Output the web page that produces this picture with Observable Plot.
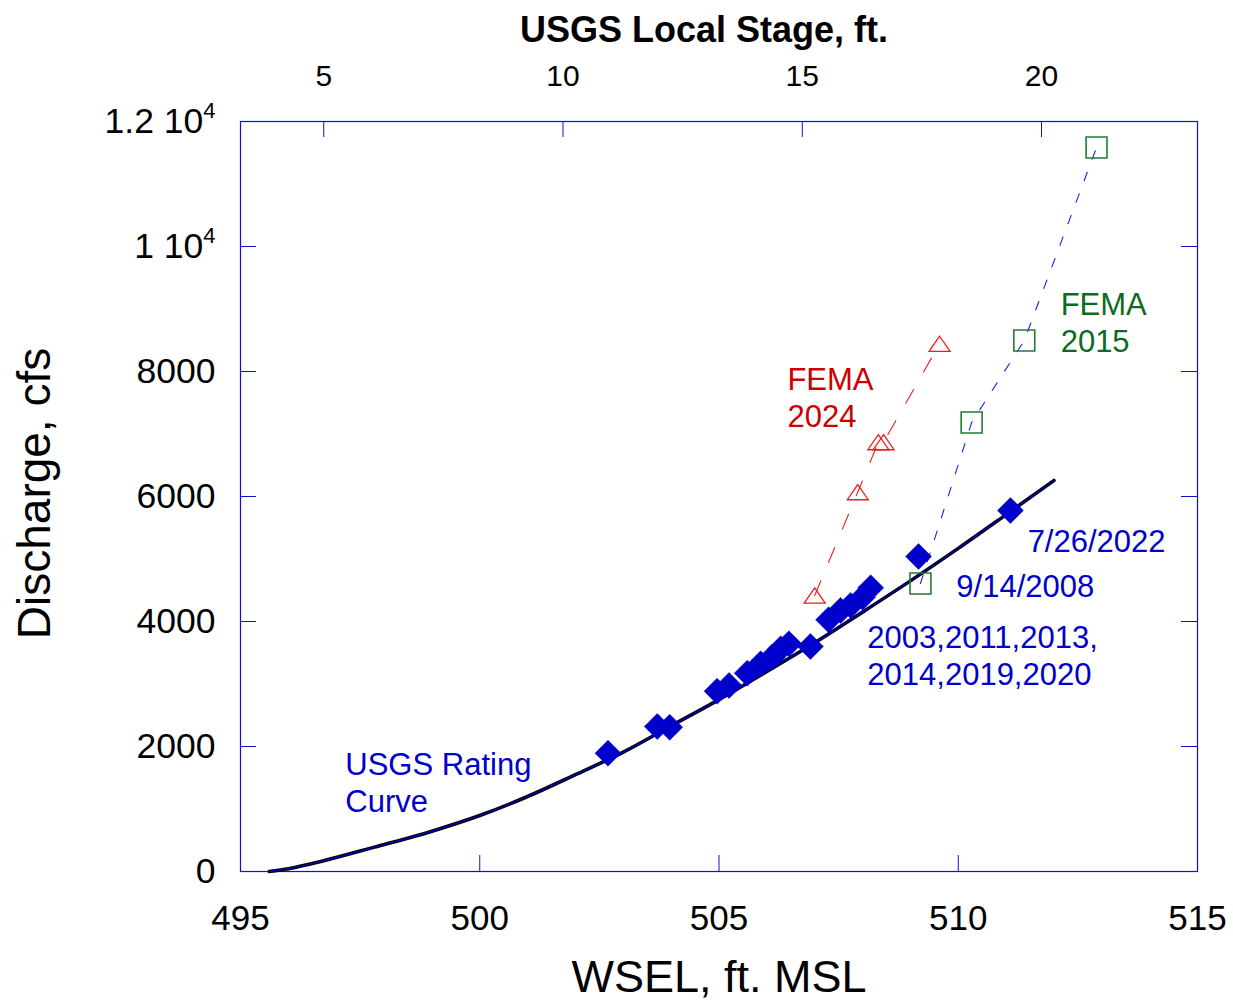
<!DOCTYPE html>
<html><head><meta charset="utf-8">
<script src="https://cdn.jsdelivr.net/npm/d3@7"></script>
<script src="https://cdn.jsdelivr.net/npm/@observablehq/plot@0.6"></script>
<style>body{margin:0;background:#fff}</style>
</head><body><div id="chart"></div>
<script>
// ---- data ----
const ratingWsel = [495.6, 496.0, 496.7, 497.8, 499.0, 500.0, 501.0, 502.0, 503.0, 504.0, 505.0, 506.0, 507.0, 508.0, 509.0, 510.0, 511.0, 512.0];
const ratingQ    = [0, 45, 165, 390, 645, 896, 1200, 1550, 1910, 2330, 2750, 3200, 3660, 4150, 4650, 5170, 5710, 6256];

const obsWsel = [502.68, 503.71, 503.97, 504.96, 505.21, 505.59, 505.87, 506.11, 506.29, 506.46, 506.91, 507.29, 507.54, 507.75, 508.00, 508.17, 509.17, 511.09];
const obsQ    = [1893, 2320, 2309, 2885, 2976, 3173, 3323, 3429, 3563, 3643, 3600, 4027, 4176, 4256, 4389, 4539, 5040, 5776];

const fema2024Wsel = [507.00, 507.90, 508.33, 508.44, 509.61];
const fema2024Q    = [4416, 6069, 6869, 6869, 8443];

const fema2015Wsel = [509.21, 510.28, 511.38, 512.89];
const fema2015Q    = [4608, 7184, 8496, 11584];

const xTicks = [495, 500, 505, 510, 515];
const yTicks = [0, 2000, 4000, 6000, 8000, 10000, 12000];
const yTickLabels = ["0", "2000", "4000", "6000", "8000", "1 10\u2074", "1.2 10\u2074"];
const stageTicks = [5, 10, 15, 20];
const stageDatum = 491.74; // WSEL of local stage zero

const labelText = ["FEMA\n2024", "FEMA\n2015", "7/26/2022", "9/14/2008", "2003,2011,2013,\n2014,2019,2020", "USGS Rating\nCurve"];
const labelWsel = [506.43, 512.14, 511.45, 509.96, 508.10, 497.19];
const labelQ    = [7592, 8792, 5296, 4576, 3472, 1440];
const labelColor = ["#cc0000", "#0b6b1e", "#0000cc", "#0000cc", "#0000cc", "#0000cc"];

// ---- tables ----
const rating = ratingWsel.map((w, i) => ({w, q: ratingQ[i]}));
const obs = obsWsel.map((w, i) => ({w, q: obsQ[i]}));
const f2024 = fema2024Wsel.map((w, i) => ({w, q: fema2024Q[i]}));
const f2015 = fema2015Wsel.map((w, i) => ({w, q: fema2015Q[i]}));
const labels = labelText.map((t, i) => ({t, w: labelWsel[i], q: labelQ[i], c: labelColor[i]}));
const yLab = new Map(yTicks.map((v, i) => [v, yTickLabels[i]]));

const W = 1233, H = 1000, mL = 240, mR = 36, mT = 121, mB = 129;
const innerW = W - mL - mR, innerH = H - mT - mB;
const TICK = 16;
const frameBlue = "#1010d0";
const font = "'Liberation Sans', Arial, Helvetica, sans-serif";

const flatTriangle = {draw(ctx, size) {
  const r = Math.sqrt(size / Math.PI), w = r, h = r * 0.72;
  ctx.moveTo(0, -h); ctx.lineTo(w, h); ctx.lineTo(-w, h); ctx.closePath();
}};

const chart = Plot.plot({
  width: W, height: H,
  marginLeft: mL, marginRight: mR, marginTop: mT, marginBottom: mB,
  style: {fontFamily: font, background: "#fff", color: "#000"},
  x: {domain: [495, 515], label: null},
  y: {domain: [0, 12000], label: null},
  color: {type: "identity"},
  marks: [
    Plot.frame({stroke: frameBlue, strokeWidth: 1.2}),
    // inward ticks
    Plot.tickX(xTicks, {x: d => d, stroke: frameBlue, insetTop: innerH - TICK}),
    Plot.tickX(stageTicks.map(s => s + stageDatum), {x: d => d, stroke: frameBlue, insetBottom: innerH - TICK}),
    Plot.tickY(yTicks, {y: d => d, stroke: frameBlue, insetRight: innerW - TICK}),
    Plot.tickY(yTicks, {y: d => d, stroke: frameBlue, insetLeft: innerW - TICK}),
    // axes labels
    Plot.axisX(xTicks, {anchor: "bottom", tickSize: 0, tickPadding: 34, fontSize: 35, tickFormat: d => String(d)}),
    Plot.axisX(stageTicks.map(s => s + stageDatum), {anchor: "top", tickSize: 0, tickPadding: 36, fontSize: 30, tickFormat: d => String(Math.round(d - stageDatum))}),
    Plot.axisY(yTicks, {anchor: "left", tickSize: 0, tickPadding: 25, fontSize: 35.5, tickFormat: d => yLab.get(d)}),
    // titles
    Plot.text(["USGS Local Stage, ft."], {frameAnchor: "top", dx: -15, dy: -80, lineAnchor: "bottom", fontSize: 36, fontWeight: "bold", fill: "#000"}),
    Plot.text(["WSEL, ft. MSL"], {frameAnchor: "bottom", dy: 120, lineAnchor: "bottom", fontSize: 45, fill: "#000"}),
    Plot.text(["Discharge, cfs"], {frameAnchor: "left", dx: -191, dy: -3, rotate: -90, textAnchor: "middle", lineAnchor: "bottom", fontSize: 46, fill: "#000"}),
    // rating curve
    Plot.line(rating, {x: "w", y: "q", stroke: "#000", strokeWidth: 3.6, curve: "monotone-x"}),
    Plot.line(rating, {x: "w", y: "q", stroke: "#0000cc", strokeWidth: 1.2, curve: "monotone-x"}),
    // FEMA lines
    Plot.line(f2015, {x: "w", y: "q", stroke: "#2020ee", strokeWidth: 1.1, strokeDasharray: "9,14"}),
    Plot.line(f2024, {x: "w", y: "q", stroke: "#ee2020", strokeWidth: 1.1, strokeDasharray: "16,20"}),
    Plot.dot(f2015, {x: "w", y: "q", symbol: "square", r: 11.8, stroke: "#237a33", strokeWidth: 1.6, fill: "none"}),
    Plot.dot(f2024, {x: "w", y: "q", symbol: flatTriangle, r: 10.5, stroke: "#ee1c1c", strokeWidth: 1.3, fill: "none"}),
    Plot.dot(obs, {x: "w", y: "q", symbol: "diamond2", r: 11.7, fill: "#0000cc", stroke: "#0000cc", strokeWidth: 0.5}),
    // annotations
    Plot.text(labels, {x: "w", y: "q", text: "t", fill: "c", textAnchor: "start", lineAnchor: "middle", lineHeight: 1.19, fontSize: 31})
  ]
});

// render exponent as a raised superscript
d3.select(chart).selectAll("text").each(function () {
  const s = this.textContent;
  if (this.childElementCount === 0 && s.endsWith("\u2074")) {
    this.textContent = s.slice(0, -1);
    const t = document.createElementNS("http://www.w3.org/2000/svg", "tspan");
    t.setAttribute("dy", "-15");
    t.setAttribute("font-size", "22");
    t.textContent = "4";
    this.appendChild(t);
  }
});
document.getElementById("chart").appendChild(chart);
</script>
</body></html>
